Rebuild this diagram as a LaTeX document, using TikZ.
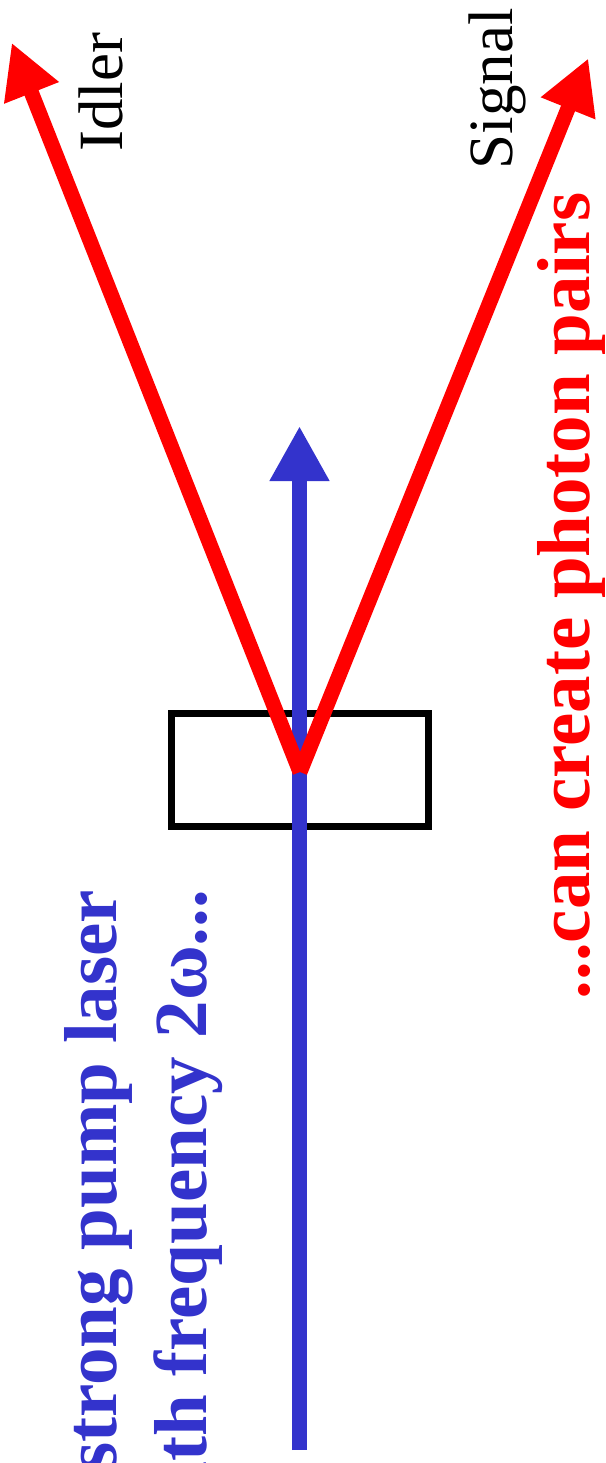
\documentclass[tikz,border=0pt]{standalone}
\usepackage{fontspec}
\setmainfont{Liberation Serif}
\usetikzlibrary{arrows.meta}
\definecolor{pumpblue}{RGB}{51,51,204}
\definecolor{pairred}{RGB}{255,0,0}
\begin{document}
\begin{tikzpicture}[x=1pt,y=-1pt,
  pumpbeam/.style={draw=pumpblue,line width=15pt,-{Triangle[length=55pt,width=56pt]}},
  pairbeam/.style={draw=pairred,line width=15pt,-{Triangle[length=54pt,width=55pt]}},
  crystalbox/.style={draw=black,line width=7pt,minimum width=257pt,minimum height=113pt,inner sep=0pt},
  pumptext/.style={text=pumpblue,font=\fontsize{75}{90}\selectfont\bfseries,inner sep=0pt,rotate=90},
  pairtext/.style={text=pairred,font=\fontsize{75}{90}\selectfont\bfseries,inner sep=0pt,rotate=90},
  lbltext/.style={text=black,font=\fontsize{63}{75}\selectfont,inner sep=0pt,rotate=90}]
\useasboundingbox (0,0) rectangle (605,1463);
% crystal
\node[crystalbox] (crystal) at (299.5,770) {};
% pump beam
\coordinate (pumpstart) at (299.5,1450);
\coordinate (pumptip) at (299.5,426);
\draw[pumpbeam] (pumpstart) -- (pumptip);
% photon pair beams
\coordinate (V) at (300,772);
\coordinate (idlertip) at (11.7,42.7);
\coordinate (signaltip) at (588.3,58.3);
\draw[pairbeam] (V) -- (idlertip);
\draw[pairbeam] (V) -- (signaltip);
% labels
\node[lbltext,anchor=base] (idler) at (122,92.5) {Idler};
\node[lbltext,anchor=base] (signal) at (512.5,89) {Signal};
\node[pumptext,anchor=base east] (pump1) at (116.7,889.5) {strong pump laser};
\node[pumptext,anchor=base east] (pump2) at (206.7,889.5) {with frequency 2ω...};
\node[pairtext,anchor=base] (pairs) at (589,596) {...can create photon pairs};
\end{tikzpicture}
\end{document}
